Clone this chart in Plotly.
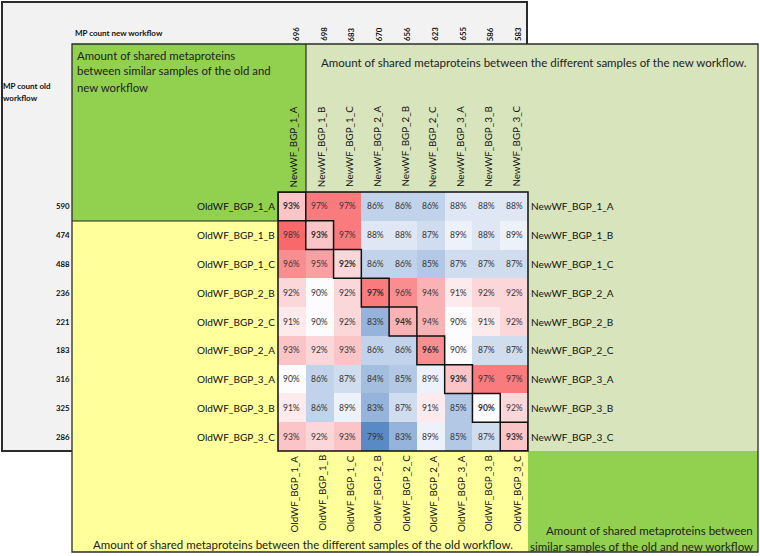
import plotly.graph_objects as go

# ---------------- data ----------------
new_labels = ["NewWF_BGP_1_A", "NewWF_BGP_1_B", "NewWF_BGP_1_C", "NewWF_BGP_2_A", "NewWF_BGP_2_B",
              "NewWF_BGP_2_C", "NewWF_BGP_3_A", "NewWF_BGP_3_B", "NewWF_BGP_3_C"]
old_labels = ["OldWF_BGP_1_A", "OldWF_BGP_1_B", "OldWF_BGP_1_C", "OldWF_BGP_2_B", "OldWF_BGP_2_C",
              "OldWF_BGP_2_A", "OldWF_BGP_3_A", "OldWF_BGP_3_B", "OldWF_BGP_3_C"]
new_counts = [696, 698, 683, 670, 656, 623, 655, 586, 583]
old_counts = [590, 474, 488, 236, 221, 183, 316, 325, 286]

row_1A = [93, 97, 97, 86, 86, 86, 88, 88, 88]
row_1B = [98, 93, 97, 88, 88, 87, 89, 88, 89]
row_1C = [96, 95, 92, 86, 86, 85, 87, 87, 87]
row_2B = [92, 90, 92, 97, 96, 94, 91, 92, 92]
row_2C = [91, 90, 92, 83, 94, 94, 90, 91, 92]
row_2A = [93, 92, 93, 86, 86, 96, 90, 87, 87]
row_3A = [90, 86, 87, 84, 85, 89, 93, 97, 97]
row_3B = [91, 86, 89, 83, 87, 91, 85, 90, 92]
row_3C = [93, 92, 93, 79, 83, 89, 85, 87, 93]
values = [row_1A, row_1B, row_1C, row_2B, row_2C, row_2A, row_3A, row_3B, row_3C]

txt_top = "Amount of shared metaproteins between the different samples of the new workflow."
txt_bottom = "Amount of shared metaproteins between the different samples of the old workflow."
txt_tl_lines = ["Amount of shared metaproteins", "between similar samples of the old and", "new workflow"]
txt_br_lines = ["Amount of shared metaproteins between", "similar samples of the old and new workflow"]

# ---------------- layout helpers ----------------
W, H = 760, 556
def PX(x):
    return x / W
def PY(y):
    return 1 - y / H

FONT = "Lato"
DARK_GREEN = "#92D050"
LIGHT_GREEN = "#D8E4BC"
YELLOW = "#FFFF9C"
GRAY = "#F2F2F2"
LINE = "#2b2b2b"

n = len(values)
vmin = min(min(r) for r in values)
vmax = max(max(r) for r in values)
flat = sorted(v for r in values for v in r)
vmid = flat[len(flat) // 2]
mpos = (vmid - vmin) / (vmax - vmin)

fig = go.Figure(go.Heatmap(
    z=values, x=list(range(n)), y=list(range(n)),
    zmin=vmin, zmax=vmax,
    colorscale=[[0, "#5A8AC6"], [mpos, "#FCFCFF"], [1, "#F8696B"]],
    showscale=False, hoverinfo="skip"))

shapes = []
def rect(x0, y0, x1, y1, fill, lw=0, lc=LINE, layer="below"):
    shapes.append(dict(type="rect", xref="paper", yref="paper",
                       x0=PX(x0), x1=PX(x1), y0=PY(y1), y1=PY(y0),
                       fillcolor=fill, line=dict(width=lw, color=lc), layer=layer))
def line(x0, y0, x1, y1, lw=1, lc=LINE):
    shapes.append(dict(type="line", xref="paper", yref="paper",
                       x0=PX(x0), x1=PX(x1), y0=PY(y0), y1=PY(y1),
                       line=dict(width=lw, color=lc), layer="above"))

# gray box
rect(2, 2, 527, 451, GRAY, lw=2)
# colored area
rect(72, 44, 758, 552, YELLOW)
rect(306, 44, 758, 192, LIGHT_GREEN)
rect(528, 192, 758, 451, LIGHT_GREEN)
rect(72, 44, 306, 221, DARK_GREEN)
rect(528, 451, 758, 552, DARK_GREEN)
# borders
rect(72, 44, 758, 552, "rgba(0,0,0,0)", lw=1.3, layer="above")
line(306, 44, 306, 192, lw=1.2)
line(72, 221, 278, 221, lw=1.2)

# heatmap frame and diagonal boxes
shapes.append(dict(type="rect", xref="x domain", yref="y domain", x0=0, x1=1, y0=0, y1=1,
                   line=dict(width=1.5, color="#111"), layer="above"))
for i in range(n):
    shapes.append(dict(type="rect", xref="x", yref="y", x0=i - 0.5, x1=i + 0.5, y0=i - 0.5, y1=i + 0.5,
                       line=dict(width=1.5, color="#111"), layer="above"))

ann = []
def note(x, y, text, size, xref="paper", yref="paper", xanchor="center", yanchor="middle",
         color="#111", **kw):
    ann.append(dict(x=x, y=y, xref=xref, yref=yref, text=text, showarrow=False,
                    xanchor=xanchor, yanchor=yanchor,
                    font=dict(family=FONT, size=size, color=color), **kw))

# cell values
for r in range(n):
    for c in range(n):
        t = f"{values[r][c]}%"
        if r == c:
            t = f"<b>{t}</b>"
        note(c, r, t, 8.5, xref="x", yref="y", color="#333")
# column labels + counts
for c in range(n):
    note(c, -0.5, new_labels[c], 9.8, xref="x", yref="y", yanchor="bottom",
         textangle=-90, yshift=3, xshift=1)
    note(c, PY(43), f"<b>{new_counts[c]}</b>", 7.8, xref="x", yanchor="bottom",
         textangle=-90, xshift=4)
    note(c, n - 0.5, old_labels[c], 9.8, xref="x", yref="y", yanchor="top",
         textangle=-90, yshift=-2, xshift=2)
# row labels + counts
for r in range(n):
    note(-0.5, r, old_labels[r], 10.0, xref="x", yref="y", xanchor="right", xshift=-1)
    note(n - 0.5, r, new_labels[r], 10.0, xref="x", yref="y", xanchor="left", xshift=1)
    note(PX(72), r, f"<b>{old_counts[r]}</b>", 7.8, yref="y", xanchor="right")

# texts
note(PX(73), PY(33), "<b>MP count new workflow</b>", 8, xanchor="left")
note(PX(1), PY(86), "<b>MP count old</b>", 8, xanchor="left")
note(PX(1), PY(98), "<b>workflow</b>", 8, xanchor="left")
for k, t in enumerate(txt_tl_lines):
    note(PX(75), PY(55 + 16 * k), t, 11.4, xanchor="left", color="#222")
note(PX(319), PY(63), txt_top, 11.5, xanchor="left", color="#222")
note(PX(91), PY(544), txt_bottom, 11.5, xanchor="left", color="#222")
for k, t in enumerate(txt_br_lines):
    note(PX(755), PY(530 + 16 * k), t, 11.5, xanchor="right", color="#222")

fig.update_layout(
    width=W, height=H, margin=dict(l=0, r=0, t=0, b=0),
    paper_bgcolor="white", plot_bgcolor="rgba(0,0,0,0)",
    xaxis=dict(domain=[PX(278), PX(528)], range=[-0.5, n - 0.5], showticklabels=False,
               showgrid=False, zeroline=False, ticks=""),
    yaxis=dict(domain=[PY(451), PY(192)], range=[n - 0.5, -0.5], showticklabels=False,
               showgrid=False, zeroline=False, ticks=""),
    shapes=shapes, annotations=ann, showlegend=False,
)
fig.write_html("out.html", config={"displayModeBar": False},
               post_script="document.body.style.margin='0';document.body.style.overflow='hidden';")
